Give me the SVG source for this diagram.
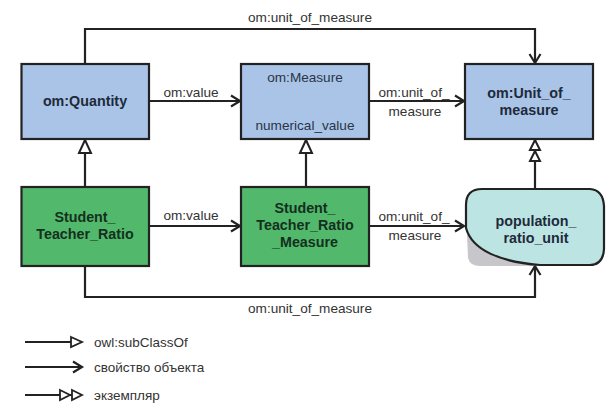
<svg xmlns="http://www.w3.org/2000/svg" width="616" height="415" viewBox="0 0 616 415">
<defs>
<style>
.box{stroke:#222;stroke-width:2.2}
.blue{fill:#a9c4e7}
.green{fill:#52b86c}
.teal{fill:#bce4e3}
.lbl{font-family:"Liberation Sans",Arial,sans-serif;font-size:13.6px;fill:#333;text-anchor:middle}
.bt{font-family:"Liberation Sans",Arial,sans-serif;font-size:14.3px;font-weight:bold;fill:#1e2a3a;text-anchor:middle}
.gt{font-family:"Liberation Sans",Arial,sans-serif;font-size:14.3px;font-weight:bold;fill:#14301c;text-anchor:middle}
.leg{font-family:"Liberation Sans",Arial,sans-serif;font-size:13.5px;fill:#333}
.c{fill:none;stroke:#222;stroke-width:2.2}
</style>
<marker id="arr" markerUnits="userSpaceOnUse" markerWidth="12" markerHeight="14" refX="10" refY="6" orient="auto" overflow="visible">
<path d="M1,0.5 L10,6 L1,11.5" fill="none" stroke="#222" stroke-width="2.2"/>
</marker>
<marker id="sub" markerUnits="userSpaceOnUse" markerWidth="16" markerHeight="16" refX="13" refY="6" orient="auto" overflow="visible">
<path d="M0,0 L13,6 L0,12 Z" fill="#fff" stroke="#222" stroke-width="2"/>
</marker>
<marker id="inst" markerUnits="userSpaceOnUse" markerWidth="24" markerHeight="14" refX="21" refY="5" orient="auto" overflow="visible">
<path d="M0,0 L10,5 L0,10 Z M11,0 L21,5 L11,10 Z" fill="#fff" stroke="#222" stroke-width="2"/>
</marker>
<marker id="subL" markerUnits="userSpaceOnUse" markerWidth="14" markerHeight="14" refX="11" refY="5" orient="auto" overflow="visible">
<path d="M0,0 L11,5 L0,10 Z" fill="#fff" stroke="#222" stroke-width="1.8"/>
</marker>
<marker id="instL" markerUnits="userSpaceOnUse" markerWidth="24" markerHeight="14" refX="22" refY="5" orient="auto" overflow="visible">
<path d="M0,0 L10,5 L0,10 Z M12,0 L22,5 L12,10 Z" fill="#fff" stroke="#222" stroke-width="1.8"/>
</marker>
</defs>
<rect width="616" height="415" fill="#fff"/>

<g id="connectors">
<path class="c" d="M85,64 V29 H535 V63" marker-end="url(#arr)"/>
<text class="lbl" x="310" y="22">om:unit_of_measure</text>
<path class="c" d="M149,101 H240" marker-end="url(#arr)"/>
<text class="lbl" x="191" y="97">om:value</text>
<path class="c" d="M369,101 H464" marker-end="url(#arr)"/>
<text class="lbl" x="414" y="97">om:unit_of_</text>
<text class="lbl" x="415" y="116">measure</text>
<path class="c" d="M85,187 V140" marker-end="url(#sub)"/>
<path class="c" d="M306,187 V140" marker-end="url(#sub)"/>
<path class="c" d="M535,188 V140" marker-end="url(#inst)"/>
<path class="c" d="M149,226 H240" marker-end="url(#arr)"/>
<text class="lbl" x="191" y="220">om:value</text>
<path class="c" d="M369,226 H464" marker-end="url(#arr)"/>
<text class="lbl" x="414" y="221">om:unit_of_</text>
<text class="lbl" x="415" y="240">measure</text>
<path class="c" d="M85,266 V297 H535 V266" marker-end="url(#arr)"/>
<text class="lbl" x="310" y="313">om:unit_of_measure</text>
</g>

<g id="om_Quantity">
<rect class="box blue" x="21.5" y="64" width="127.5" height="75"/>
<text class="bt" x="85" y="106">om:Quantity</text>
</g>
<g id="om_Measure">
<rect class="box blue" x="241" y="64" width="128" height="75"/>
<text class="lbl" x="305" y="82" style="fill:#2a3548">om:Measure</text>
<text class="lbl" x="305" y="130" style="fill:#2a3548">numerical_value</text>
</g>
<g id="om_Unit_of_measure">
<rect class="box blue" x="465" y="64" width="128" height="75"/>
<text class="bt" x="529" y="98">om:Unit_of_</text>
<text class="bt" x="529" y="115">measure</text>
</g>
<g id="Student_Teacher_Ratio">
<rect class="box green" x="21.5" y="187" width="127.5" height="79"/>
<text class="gt" x="85" y="222">Student_</text>
<text class="gt" x="85" y="239">Teacher_Ratio</text>
</g>
<g id="Student_Teacher_Ratio_Measure">
<rect class="box green" x="241" y="187" width="128" height="79"/>
<text class="gt" x="305" y="213">Student_</text>
<text class="gt" x="305" y="230">Teacher_Ratio</text>
<text class="gt" x="305" y="247">_Measure</text>
</g>
<g id="population_ratio_unit">
<path d="M467,234 L468,258 Q470,266 480,266 L538,266 C505,262 478,254 467,234 Z" fill="#c6c6cb"/>
<path class="box teal" d="M482,189 L590,189 Q603,190 604,206 L604,249 Q603,265 590,265 L540,265 C500,262 472,250 466,228 L466,205 Q466,189 482,189 Z"/>
<text class="bt" x="536" y="226">population_</text>
<text class="bt" x="536" y="243">ratio_unit</text>
</g>

<g id="legend">
<path class="c" d="M25,342 H82" stroke-width="2" marker-end="url(#subL)"/>
<text class="leg" x="94" y="347">owl:subClassOf</text>
<path class="c" d="M25,367 H82" stroke-width="2" marker-end="url(#arr)"/>
<text class="leg" x="94" y="372">свойство объекта</text>
<path class="c" d="M25,395 H82" stroke-width="2" marker-end="url(#instL)"/>
<text class="leg" x="94" y="400">экземпляр</text>
</g>
</svg>
